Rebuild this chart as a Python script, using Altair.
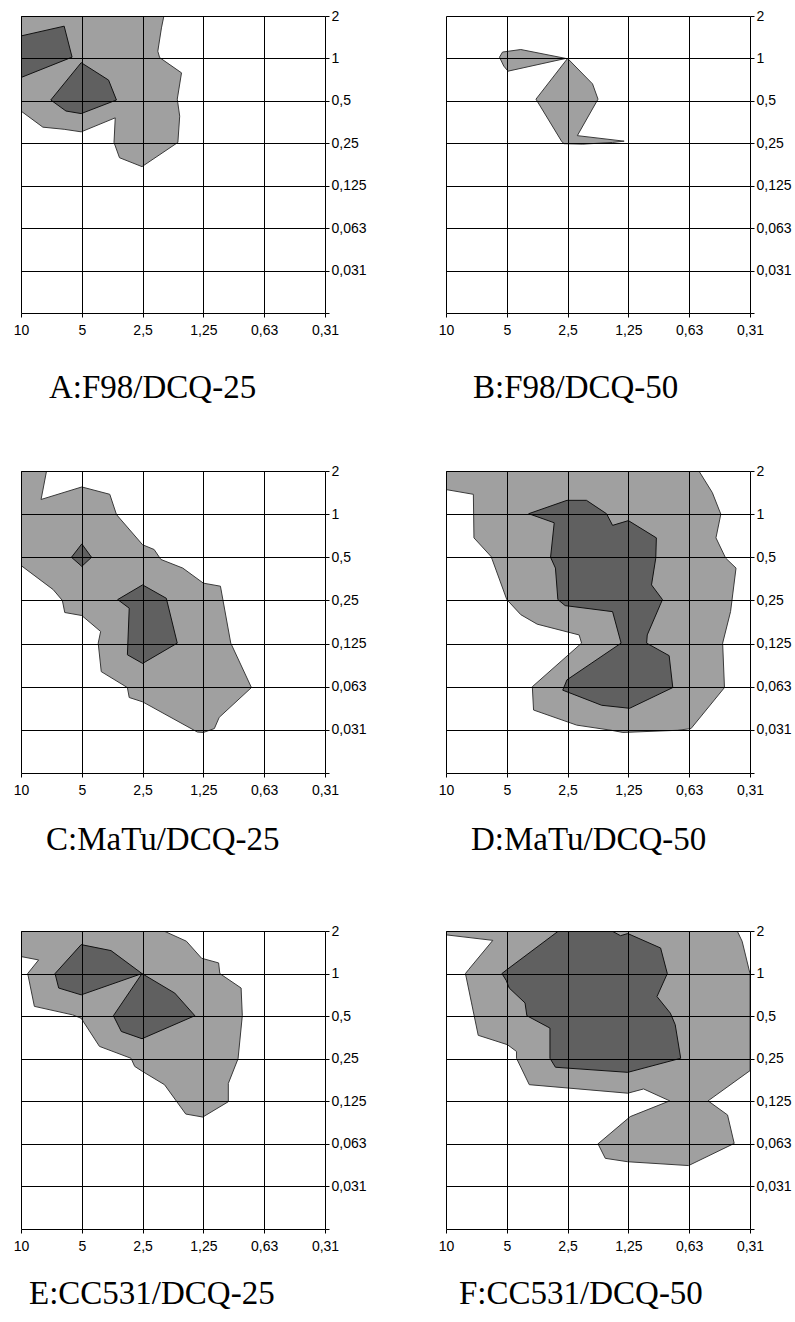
import json

import altair as alt
import pandas as pd

# Axis tick labels (x: dilution of the first drug, y: dilution of DCQ)
X_LABELS = ["10", "5", "2,5", "1,25", "0,63", "0,31"]
Y_LABELS = ["", "0,031", "0,063", "0,125", "0,25", "0,5", "1", "2"]

# Contour outlines as (x index, y index) vertices.
# x index 0..5 -> 10 .. 0,31 ; y index 0..7 -> bottom .. 2
A_LIGHT = [(0, 7.0), (2.35, 7.0), (2.31, 6.72), (2.25, 6.17), (2.28, 6.02), (2.64, 5.66),
           (2.57, 5.04), (2.61, 4.64), (2.58, 4.02), (1.99, 3.45), (1.62, 3.66), (1.53, 4.02),
           (1.55, 4.60), (0.99, 4.27), (0.71, 4.33), (0.36, 4.38), (0, 4.76)]
A_DARK_1 = [(0, 6.53), (0.71, 6.76), (0.84, 6.03), (0, 5.55)]
A_DARK_2 = [(0.99, 5.90), (1.44, 5.49), (1.57, 5.02), (0.99, 4.70), (0.74, 4.76), (0.49, 5.02)]

B_LIGHT_1 = [(0.88, 6.03), (0.93, 6.15), (1.23, 6.21), (1.97, 6.0), (1.02, 5.70), (0.95, 5.82)]
B_LIGHT_2 = [(2.0, 6.0), (2.41, 5.40), (2.50, 5.04), (2.16, 4.18), (2.93, 4.05), (2.74, 4.02),
             (2.25, 3.98), (1.94, 3.99), (1.90, 4.05), (1.48, 5.04)]

C_LIGHT = [(0, 7.0), (0.42, 7.0), (0.33, 6.34), (1.0, 6.63), (1.46, 6.46), (1.57, 5.99),
           (2.0, 5.29), (2.19, 5.18), (2.30, 4.95), (2.66, 4.75), (3.0, 4.40), (3.28, 4.33),
           (3.45, 3.01), (3.79, 1.98), (3.26, 1.29), (3.18, 1.03), (3.0, 0.94), (2.90, 0.95),
           (2.0, 1.65), (1.78, 1.75), (1.75, 1.98), (1.32, 2.35), (1.27, 3.01), (1.31, 3.28),
           (1.0, 3.65), (0.72, 3.72), (0.68, 4.0), (0.53, 4.25), (0, 4.81)]
C_DARK_1 = [(1.0, 5.31), (1.16, 5.0), (1.0, 4.79), (0.83, 5.0)]
C_DARK_2 = [(2.0, 4.36), (2.39, 4.05), (2.57, 3.01), (2.0, 2.54), (1.75, 2.74), (1.78, 3.82),
            (1.59, 4.02)]

D_LIGHT = [(0, 7.0), (4.16, 7.0), (4.38, 6.50), (4.52, 6.0), (4.44, 5.45), (4.60, 4.98),
           (4.77, 4.75), (4.68, 3.74), (4.55, 3.01), (4.58, 1.98), (4.03, 1.03), (3.81, 0.99),
           (2.91, 0.94), (2.72, 0.99), (2.15, 1.11), (1.44, 1.46), (1.42, 2.0), (2.23, 3.01),
           (2.19, 3.20), (1.50, 3.45), (1.23, 3.67), (1.0, 4.02), (0.76, 4.95), (0.74, 5.02),
           (0.46, 5.45), (0.45, 6.46), (0, 6.57)]
D_DARK = [(1.36, 6.01), (1.99, 6.32), (2.31, 6.32), (2.64, 6.01), (2.74, 5.74), (3.0, 5.85),
          (3.46, 5.45), (3.45, 4.98), (3.38, 4.36), (3.56, 4.02), (3.31, 3.20), (3.30, 3.01),
          (3.67, 2.72), (3.73, 1.98), (3.02, 1.50), (2.56, 1.57), (1.92, 1.92), (1.99, 2.16),
          (2.88, 3.01), (2.74, 3.74), (1.96, 3.88), (1.84, 4.02), (1.80, 4.75), (1.72, 5.0),
          (1.78, 5.80)]

E_LIGHT = [(0, 7.0), (2.35, 7.0), (2.72, 6.76), (2.97, 6.36), (3.25, 6.25), (3.27, 6.0),
           (3.62, 5.66), (3.64, 5.01), (3.57, 4.0), (3.41, 3.42), (3.41, 2.99), (2.99, 2.63),
           (2.71, 2.70), (2.36, 3.39), (2.0, 3.70), (1.87, 3.82), (1.81, 4.01), (1.29, 4.29),
           (0.99, 4.95), (0.85, 5.03), (0.22, 5.23), (0.11, 6.0), (0.29, 6.32), (0, 6.40)]
E_DARK_1 = [(0.99, 6.68), (1.48, 6.54), (1.99, 6.0), (0.99, 5.50), (0.62, 5.66), (0.56, 6.0)]
E_DARK_2 = [(1.99, 6.0), (2.53, 5.54), (2.86, 5.01), (1.99, 4.47), (1.65, 4.64), (1.52, 5.01)]

F_LIGHT = [(0, 7.0), (4.79, 7.0), (4.87, 6.76), (5.0, 6.0), (5.0, 3.72), (4.31, 3.01),
           (4.63, 2.68), (4.74, 2.01), (3.99, 1.49), (2.99, 1.58), (2.62, 1.66), (2.50, 2.0),
           (3.03, 2.64), (3.68, 3.01), (3.25, 3.29), (2.99, 3.19), (1.37, 3.39), (1.16, 4.01),
           (1.16, 4.17), (1.01, 4.33), (0.53, 4.55), (0.42, 5.31), (0.32, 6.0), (0.37, 6.09),
           (0.77, 6.78), (0, 6.91)]
F_DARK = [(1.85, 7.0), (2.73, 7.0), (2.87, 6.89), (2.99, 6.94), (3.53, 6.60), (3.64, 6.0),
          (3.47, 5.46), (3.69, 5.07), (3.77, 4.80), (3.86, 4.01), (2.99, 3.68), (1.99, 3.78),
          (1.80, 3.80), (1.71, 4.01), (1.71, 4.72), (1.33, 5.01), (1.30, 5.31), (1.04, 5.66),
          (0.99, 5.84), (0.92, 6.0), (1.0, 6.09)]

CAPTIONS = ["A:F98/DCQ-25", "B:F98/DCQ-50", "C:MaTu/DCQ-25",
            "D:MaTu/DCQ-50", "E:CC531/DCQ-25", "F:CC531/DCQ-50"]

LIGHT_FILL = "#a0a0a0"
DARK_FILL = "#606060"
PANEL_W = 304


def outline_frame(polys):
    rows = []
    for pid, pts in enumerate(polys):
        for i, (x, y) in enumerate(list(pts) + [pts[0]]):
            rows.append({"poly": pid, "i": i, "x": x, "y": y})
    return pd.DataFrame(rows)


def axis_common(**kw):
    return alt.Axis(
        title=None, grid=True, gridColor="black", gridWidth=1, gridOpacity=1,
        domain=False, ticks=True, tickColor="black", tickSize=4, tickWidth=1,
        labelFont="Liberation Sans", labelFontSize=14, labelColor="black",
        labelOverlap=False, labelFlush=False, zindex=1, **kw)


def panel(light, dark, caption, height, cap_x, cap_y):
    x_enc = alt.X("x:Q", scale=alt.Scale(domain=[0, 5], nice=False, zero=False),
                  axis=axis_common(values=list(range(6)), labelPadding=6,
                                   labelExpr=f"{json.dumps(X_LABELS)}[datum.value]"))
    y_enc = alt.Y("y:Q", scale=alt.Scale(domain=[0, 7], nice=False, zero=False),
                  axis=axis_common(values=list(range(8)), orient="right", labelPadding=2,
                                   labelExpr=f"{json.dumps(Y_LABELS)}[datum.value]"))
    layers = []
    for polys, fill, stroke in ((light, LIGHT_FILL, "#3a3a3a"), (dark, DARK_FILL, "#111111")):
        if not polys:
            continue
        layers.append(
            alt.Chart(outline_frame(polys)).mark_line(
                fill=fill, stroke=stroke, strokeWidth=1, clip=True
            ).encode(x=x_enc, y=y_enc, detail="poly:N", order="i:Q")
        )
    label = alt.Chart(pd.DataFrame({"t": [caption]})).mark_text(
        font="Liberation Serif", fontSize=33, align="left", baseline="alphabetic",
        color="black"
    ).encode(text="t:N", x=alt.value(cap_x), y=alt.value(cap_y))
    layers.append(label)
    return alt.layer(*layers).properties(width=PANEL_W, height=height)


panels = [
    panel([A_LIGHT], [A_DARK_1, A_DARK_2], CAPTIONS[0], 297, 28, 382),
    panel([B_LIGHT_1, B_LIGHT_2], [], CAPTIONS[1], 297, 27, 382),
    panel([C_LIGHT], [C_DARK_1, C_DARK_2], CAPTIONS[2], 302, 25, 379),
    panel([D_LIGHT], [D_DARK], CAPTIONS[3], 302, 25, 379),
    panel([E_LIGHT], [E_DARK_1, E_DARK_2], CAPTIONS[4], 298, 8, 373),
    panel([F_LIGHT], [F_DARK], CAPTIONS[5], 298, 13, 373),
]

chart = alt.concat(
    *panels, columns=2, spacing={"row": 158, "column": 121}, bounds="flush"
).properties(
    padding={"left": 12, "top": 8, "right": 0, "bottom": 0},
    background="white",
).configure_view(stroke="transparent")

chart.save("out.html", embed_options={"renderer": "svg", "actions": False})
